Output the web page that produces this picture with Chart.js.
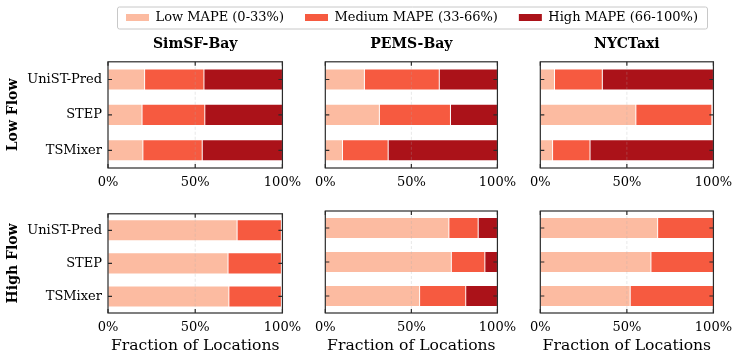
<!DOCTYPE html>
<html>
<head>
<meta charset="utf-8">
<script src="https://cdn.jsdelivr.net/npm/chart.js@4"></script>
<style>
  body { margin: 0; width: 747px; height: 364px; background: #fff; overflow: hidden; position: relative; }
  canvas { position: absolute; }
</style>
</head>
<body>
<canvas id="legend" style="left:0;top:-10px" width="747" height="240"></canvas>
<canvas id="c00" style="left:0;top:28px" width="308" height="170"></canvas>
<canvas id="c01" style="left:308px;top:28px" width="215" height="170"></canvas>
<canvas id="c02" style="left:523px;top:28px" width="216" height="170"></canvas>
<canvas id="c10" style="left:0;top:200px" width="308" height="163"></canvas>
<canvas id="c11" style="left:308px;top:200px" width="215" height="163"></canvas>
<canvas id="c12" style="left:523px;top:200px" width="216" height="163"></canvas>
<script>
Chart.defaults.font.family = "'DejaVu Serif', serif";
Chart.defaults.color = '#000';

const methods = ['UniST-Pred', 'STEP', 'TSMixer'];
const cities = ['SimSF-Bay', 'PEMS-Bay', 'NYCTaxi'];
const flows = ['Low Flow', 'High Flow'];
const mapeLevels = ['Low MAPE (0-33%)', 'Medium MAPE (33-66%)', 'High MAPE (66-100%)'];
const mapeColors = ['#fcbba1', '#f65a40', '#ab1219'];
const xTicks = [0, 50, 100];

// % of locations, one inner array per city (order = methods)
const lowFlowLow   = [[21, 19.5, 20], [22.7, 31.4, 10], [8.2, 55.2, 7.1]];
const lowFlowMed   = [[34, 36, 34], [43.5, 41.3, 26.5], [27.6, 43.9, 21.6]];
const lowFlowHigh  = [[45, 44.5, 46], [33.8, 27.3, 63.5], [64.2, 0, 71.3]];
const highFlowLow  = [[74, 68.8, 69.3], [71.8, 73.2, 54.8], [67.8, 63.9, 51.9]];
const highFlowMed  = [[25.4, 30.6, 30.1], [17, 19.5, 26.8], [32.2, 36.1, 48.1]];
const highFlowHigh = [[0, 0, 0], [11.2, 7.3, 18.4], [0, 0, 0]];

// frame, inward ticks and the faint 50% line, drawn over the bars
const framePlugin = {
  id: 'frame',
  afterDatasetsDraw(chart) {
    const ctx = chart.ctx, a = chart.chartArea, x = chart.scales.x, y = chart.scales.y;
    ctx.save();
    ctx.strokeStyle = 'rgba(170,170,170,0.35)';
    ctx.lineWidth = 0.8;
    ctx.setLineDash([3, 2]);
    const gx = x.getPixelForValue(xTicks[1]);
    ctx.beginPath(); ctx.moveTo(gx, a.top); ctx.lineTo(gx, a.bottom); ctx.stroke();
    ctx.setLineDash([]);
    ctx.strokeStyle = '#2b2b2b';
    ctx.lineWidth = 1.2;
    ctx.strokeRect(a.left, a.top, a.right - a.left, a.bottom - a.top);
    ctx.beginPath();
    xTicks.forEach(function(v) {
      const px = x.getPixelForValue(v);
      ctx.moveTo(px, a.bottom); ctx.lineTo(px, a.bottom - 4);
      ctx.moveTo(px, a.top); ctx.lineTo(px, a.top + 4);
    });
    methods.forEach(function(m, i) {
      const py = y.getPixelForValue(i);
      ctx.moveTo(a.left, py); ctx.lineTo(a.left + 4, py);
      ctx.moveTo(a.right, py); ctx.lineTo(a.right - 4, py);
    });
    ctx.stroke();
    ctx.restore();
  }
};

function panel(id, row, col) {
  const vals = row === 0 ? [lowFlowLow, lowFlowMed, lowFlowHigh] : [highFlowLow, highFlowMed, highFlowHigh];
  const left = col === 0;
  new Chart(document.getElementById(id), {
    type: 'bar',
    data: {
      labels: methods,
      datasets: mapeLevels.map(function(lbl, k) {
        return {
          label: lbl, data: vals[k][col], backgroundColor: mapeColors[k],
          borderColor: '#fff', borderWidth: 0.8, borderSkipped: false, barThickness: 21
        };
      })
    },
    options: {
      indexAxis: 'y', responsive: false, animation: false,
      layout: { padding: { left: left ? 0 : 16, right: 20, top: row === 0 ? 0 : 11, bottom: 0 } },
      plugins: {
        legend: { display: false },
        tooltip: { enabled: false },
        title: { display: row === 0, text: cities[col], color: '#000', fullSize: false,
                 font: { size: 14, weight: 'bold' }, padding: { top: 8, bottom: 9 } }
      },
      scales: {
        x: {
          stacked: true, min: 0, max: 100,
          afterBuildTicks: function(s) { s.ticks = xTicks.map(function(v) { return { value: v }; }); },
          afterFit: function(s) { s.height = row === 0 ? 30 : 50; },
          grid: { display: false, drawTicks: false }, border: { display: false },
          ticks: { padding: 7, font: { size: 13 }, maxRotation: 0, autoSkip: false,
                   callback: function(v) { return v + '%'; } },
          title: { display: row === 1, text: 'Fraction of Locations', font: { size: 15.6 },
                   padding: { top: 0, bottom: 8 } }
        },
        y: {
          stacked: true,
          afterFit: function(s) { s.width = left ? 108 : 0; },
          grid: { display: false, drawTicks: false }, border: { display: false },
          ticks: { display: left, padding: 6, font: { size: 13 } },
          title: { display: left, text: flows[row], font: { size: 14, weight: 'bold' },
                   padding: { top: 5, bottom: 0 } }
        }
      }
    },
    plugins: [framePlugin]
  });
}

for (let r = 0; r < 2; r++) {
  for (let c = 0; c < 3; c++) panel('c' + r + c, r, c);
}

// legend box around the items
const legendFrame = {
  id: 'legendFrame',
  afterDraw(chart) {
    const boxes = chart.legend.legendHitBoxes;
    if (!boxes || !boxes.length) return;
    const ctx = chart.ctx;
    const first = boxes[0], last = boxes[boxes.length - 1];
    const cy = first.top + first.height / 2;
    const x0 = first.left - 9, x1 = last.left + last.width + 9;
    ctx.save();
    ctx.strokeStyle = '#c8c8c8';
    ctx.lineWidth = 1;
    ctx.beginPath();
    ctx.roundRect(x0 + 0.5, cy - 11 + 0.5, x1 - x0, 22, 2);
    ctx.stroke();
    ctx.restore();
  }
};

new Chart(document.getElementById('legend'), {
  type: 'bar',
  data: {
    labels: [],
    datasets: mapeLevels.map(function(l, i) { return { label: l, data: [], backgroundColor: mapeColors[i] }; })
  },
  options: {
    responsive: false, animation: false,
    layout: { padding: { left: 77 } },
    scales: { x: { display: false }, y: { display: false } },
    plugins: {
      tooltip: { enabled: false },
      legend: { labels: { boxWidth: 23, boxHeight: 7, padding: 21, color: '#000', font: { size: 13 } } }
    }
  },
  plugins: [legendFrame]
});
</script>
</body>
</html>
